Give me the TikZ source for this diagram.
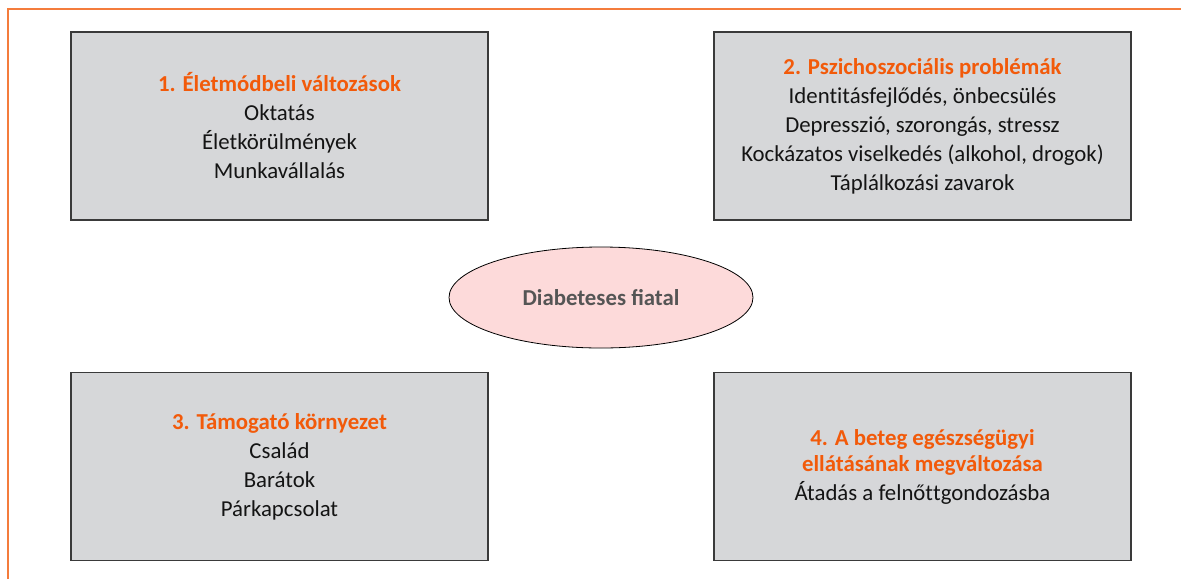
\documentclass[tikz,border=0pt]{standalone}
\usepackage{fontspec}
\setmainfont{Carlito}
\usetikzlibrary{shapes.geometric}
\definecolor{frameor}{HTML}{F47C3C}
\definecolor{titleor}{HTML}{F25A0A}
\definecolor{boxgray}{HTML}{D6D7D9}
\definecolor{boxline}{HTML}{3A3A3A}
\definecolor{ellpink}{HTML}{FDDADA}
\definecolor{ellgray}{HTML}{555555}
\newcommand{\ttl}[1]{\textcolor{titleor}{\bfseries #1}}
\begin{document}
\begin{tikzpicture}[x=1pt,y=-1pt,
  box/.style={draw=boxline, line width=1.5pt, fill=boxgray, align=center,
    font=\fontsize{22.8}{29}\selectfont, text=black!92, inner sep=0pt,
    minimum width=417pt, minimum height=188pt},
  centre/.style={ellipse, draw=black, line width=0.8pt, fill=ellpink, minimum width=304pt,
    minimum height=101pt, inner sep=0pt, text=ellgray, font=\fontsize{22.8}{26}\selectfont\bfseries}]
\useasboundingbox (0,0) rectangle (1181,579);
\draw[frameor, line width=1.5pt] (8,579) -- (8,9) -- (1181,9);
\node[box] (b1) at (279.5,126) {\ttl{1. Életmódbeli változások}\\Oktatás\\Életkörülmények\\Munkavállalás};
\node[box] (b2) at (922.5,126) {\ttl{2. Pszichoszociális problémák}\\Ident\kern0pt itásfejlődés, önbecsülés\\Depresszió, szorongás, stressz\\Kockázatos viselkedés (alkohol, drogok)\\Táplálkozási zavarok};
\node[box] (b3) at (279.5,466.5) {\ttl{3. Támogató környezet}\\Család\\Barátok\\Párkapcsolat};
\node[box] (b4) at (922.5,466.5) {\ttl{4. A beteg egészségügyi}\\[-3pt]\ttl{ellátásának megváltozása}\\Átadás a felnőt\kern0pt tgondozásba};
\node[centre] (c) at (601,297.5) {Diabeteses fiatal};
\end{tikzpicture}
\end{document}
